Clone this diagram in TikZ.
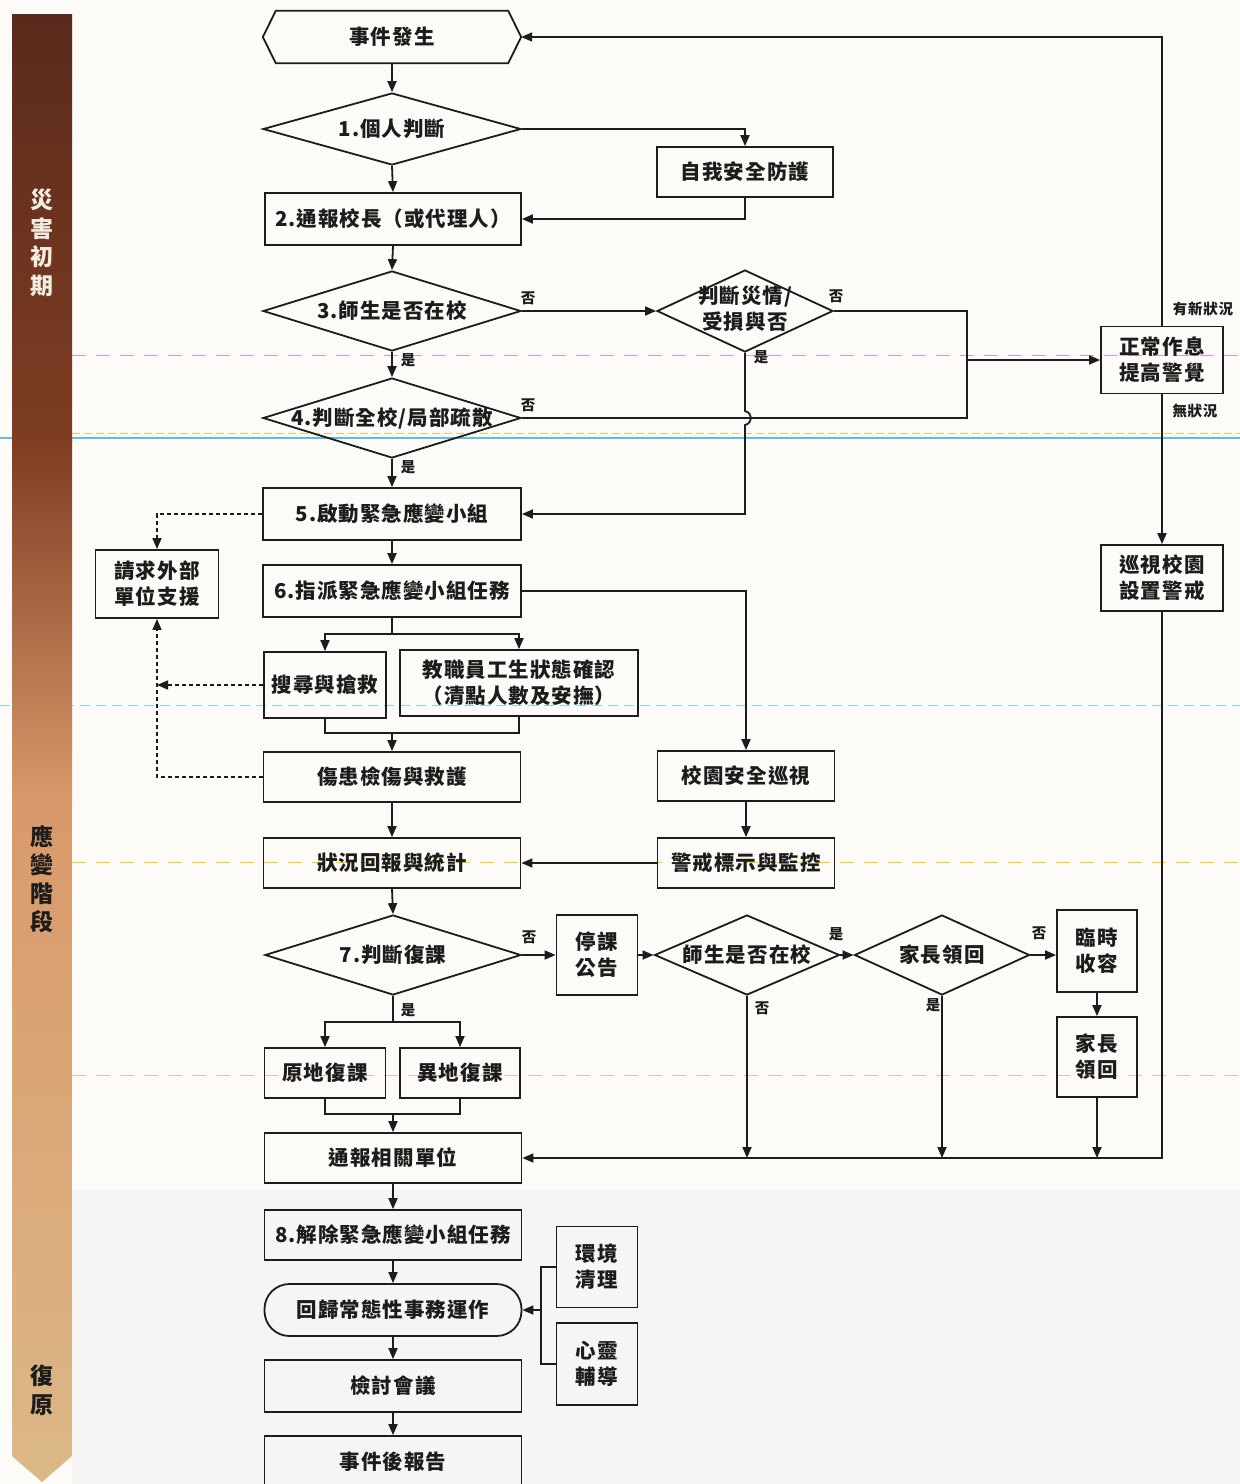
\documentclass[tikz,border=0pt]{standalone}
\usepackage{fontspec}
\setmainfont{Noto Sans CJK TC}[LetterSpace=5]
\usetikzlibrary{shapes.geometric,arrows.meta,calc}
\definecolor{bgc}{HTML}{FCFBF7}
\definecolor{sA}{HTML}{5A2A1C}
\definecolor{sB}{HTML}{7E3D22}
\definecolor{sC}{HTML}{D9996A}
\definecolor{sD}{HTML}{DCB888}
\definecolor{ink}{HTML}{1C1C1C}
\definecolor{sidewhite}{HTML}{F3ECE0}
\tikzset{
  base/.style={inner sep=0pt, align=center, text=ink, font=\bfseries\fontsize{20.5}{26}\selectfont},
  bx/.style={base, draw=ink, line width=1.8pt},
  dia/.style={diamond, draw=ink, line width=1.8pt, inner sep=0pt},
  ln/.style={draw=ink, line width=1.8pt},
  arr/.style={draw=ink, line width=1.8pt, -{Triangle[length=11pt,width=9pt]}},
  dsh/.style={draw=ink, line width=1.5pt, dash pattern=on 4pt off 3pt},
  dsharr/.style={dsh, -{Triangle[length=11pt,width=9pt]}},
  lab/.style={inner sep=1pt, text=ink, font=\bfseries\fontsize{14.5}{17}\selectfont},
  side/.style={inner sep=0pt, align=center, font=\bfseries\fontsize{23}{28.5}\selectfont},
}
\begin{document}
\begin{tikzpicture}[x=1pt,y=-1pt]
\useasboundingbox (0,0) rectangle (1240,1484);
\clip (0,0) rectangle (1240,1484);
\fill[bgc] (0,0) rectangle (1240,1484);
\fill[black!4] (72,1190) rectangle (1240,1484);
% scan guide lines
\draw[magenta!45, line width=.8pt, dash pattern=on 14pt off 10pt] (72,355) -- (1240,355);
\draw[orange!55, line width=.6pt, dash pattern=on 8pt off 4pt] (72,433) -- (1240,433);
\draw[cyan!80!teal, line width=1.8pt, opacity=.7] (0,438) -- (1240,438);
\draw[cyan!50, line width=.8pt, dash pattern=on 10pt off 6pt] (0,705) -- (1240,705);
\draw[yellow!70!orange, line width=.8pt, dash pattern=on 14pt off 10pt] (72,862) -- (1240,862);
\draw[red!30, line width=.6pt, dash pattern=on 14pt off 10pt] (72,1075) -- (1240,1075);
% side bar
\shade[top color=sA, bottom color=sB] (12,14) rectangle (72,441);
\shade[top color=sB, bottom color=sC] (12,440) rectangle (72,801);
\shade[top color=sC, bottom color=sD] (12,800) -- (72,800) -- (72,1456) -- (42,1482) -- (12,1456) -- cycle;
\node[side, text=sidewhite] (ph1) at (42,243) {災\\害\\初\\期};
\node[side, text=ink] (ph2) at (42,879) {應\\變\\階\\段};
\node[side, text=ink] (ph3) at (42,1390) {復\\原};

% nodes
\node[base, minimum width=258pt, minimum height=52pt] (ev) at (392,37) {事件發生};
\draw[ln] (ev.west) -- ([xshift=13pt]ev.north west) -- ([xshift=-13pt]ev.north east) -- (ev.east) -- ([xshift=-13pt]ev.south east) -- ([xshift=13pt]ev.south west) -- cycle;

\node[dia, minimum width=258pt, minimum height=72pt] (d1) at (392,129) {};
\node[base] (d1t) at (d1) {1.個人判斷};
\node[bx, minimum width=176pt, minimum height=50pt] (safe) at (745,172) {自我安全防護};
\node[bx, minimum width=256pt, minimum height=52pt] (n2) at (393,219) {2.通報校長（或代理人）};
\node[dia, minimum width=258pt, minimum height=80pt] (d3) at (392,311) {};
\node[base] (d3t) at (d3) {3.師生是否在校};
\node[dia, minimum width=176pt, minimum height=82pt] (dj) at (745,311) {};
\node[base] (djt) at (745,309) {判斷災情/\\受損與否};
\node[dia, minimum width=258pt, minimum height=80pt] (d4) at (392,418) {};
\node[base] (d4t) at (d4) {4.判斷全校/局部疏散};
\node[bx, minimum width=122pt, minimum height=67pt] (norm) at (1162,360) {正常作息\\提高警覺};
\node[bx, minimum width=258pt, minimum height=52pt] (n5) at (392,514) {5.啟動緊急應變小組};
\node[bx, minimum width=123pt, minimum height=68pt] (ext) at (157,584) {請求外部\\單位支援};
\node[bx, minimum width=122pt, minimum height=66pt] (pat) at (1162,578) {巡視校園\\設置警戒};
\node[bx, minimum width=258pt, minimum height=52pt] (n6) at (392,591) {6.指派緊急應變小組任務};
\node[bx, minimum width=122pt, minimum height=66pt] (sr) at (325,685) {搜尋與搶救};
\node[bx, minimum width=238pt, minimum height=66pt] (st) at (519,683) {教職員工生狀態確認\\（清點人數及安撫）};
\node[bx, minimum width=257pt, minimum height=50pt] (inj) at (392,777) {傷患檢傷與救護};
\node[bx, minimum width=177pt, minimum height=50pt] (pat2) at (746,776) {校園安全巡視};
\node[bx, minimum width=257pt, minimum height=50pt] (rep) at (392,863) {狀況回報與統計};
\node[bx, minimum width=177pt, minimum height=50pt] (warn) at (746,863) {警戒標示與監控};
\node[dia, minimum width=256pt, minimum height=80pt] (d7) at (393,955) {};
\node[base] (d7t) at (d7) {7.判斷復課};
\node[bx, minimum width=81pt, minimum height=80pt] (stop) at (597,955) {停課\\公告};
\node[dia, minimum width=185pt, minimum height=80pt] (s2) at (747,955) {};
\node[base] (s2t) at (s2) {師生是否在校};
\node[dia, minimum width=175pt, minimum height=80pt] (dp) at (942,955) {};
\node[base] (dpt) at (dp) {家長領回};
\node[bx, minimum width=80pt, minimum height=82pt] (tmp) at (1097,951) {臨時\\收容};
\node[bx, minimum width=80pt, minimum height=80pt] (pr) at (1097,1057) {家長\\領回};
\node[bx, minimum width=121pt, minimum height=50pt] (r1) at (325,1073) {原地復課};
\node[bx, minimum width=120pt, minimum height=50pt] (r2) at (460,1073) {異地復課};
\node[bx, minimum width=257pt, minimum height=50pt] (n9) at (393,1158) {通報相關單位};
\node[bx, minimum width=257pt, minimum height=50pt] (n10) at (393,1235) {8.解除緊急應變小組任務};
\node[bx, minimum width=81pt, minimum height=81pt] (env) at (597,1267) {環境\\清理};
\node[bx, minimum width=257pt, minimum height=52pt, rounded corners=25pt] (ret) at (393,1310) {回歸常態性事務運作};
\node[bx, minimum width=81pt, minimum height=82pt] (mind) at (597,1364) {心靈\\輔導};
\node[bx, minimum width=257pt, minimum height=52pt] (rev) at (393,1386) {檢討會議};
\node[bx, minimum width=257pt, minimum height=52pt] (rpt) at (393,1462) {事件後報告};

% labels
\node[lab] (l1) at (528,298) {否};
\node[lab] (l2) at (836,296) {否};
\node[lab] (l3) at (761,357) {是};
\node[lab] (l4) at (408,360) {是};
\node[lab] (l5) at (528,405) {否};
\node[lab] (l6) at (408,467) {是};
\node[lab] (l7) at (1203,309) {有新狀況};
\node[lab] (l8) at (1195,411) {無狀況};
\node[lab] (l9) at (529,937) {否};
\node[lab] (l10) at (836,934) {是};
\node[lab] (l11) at (1039,933) {否};
\node[lab] (l12) at (762,1008) {否};
\node[lab] (l13) at (933,1005) {是};
\node[lab] (l14) at (408,1010) {是};

% coordinates
\coordinate (mg) at (967,360);
\coordinate (br1) at (392,634);
\coordinate (br2) at (392,733);
\coordinate (br3) at (393,1022);
\coordinate (br4) at (393,1114);
\coordinate (br5) at (541,1310);

% connectors
\draw[arr] (ev.south) -- (d1.north);
\draw[arr] (d1.east) -| (safe.north);
\draw[arr] (d1.south) -- (n2.north);
\draw[arr] (safe.south) |- (n2.east);
\draw[arr] (n2.south) -- (d3.north);
\draw[arr] (d3.east) -- (dj.west);
\draw[ln] (dj.east) -| (mg) |- (d4.east);
\draw[arr] (mg) -- (norm.west);
\draw[arr] (dj.south) -- ($(dj.south |- d4.east)+(0,-7)$) .. controls +(8,2) and +(8,-2) .. ($(dj.south |- d4.east)+(0,7)$) |- (n5.east);
\draw[arr] (d3.south) -- (d4.north);
\draw[arr] (d4.south) -- (n5.north);
\draw[arr] (norm.north) |- (ev.east);
\draw[arr] (norm.south) -- (pat.north);
\draw[arr] (pat.south) |- (n9.east);
\draw[dsharr] (n5.west) -| (ext.north);
\draw[arr] (n5.south) -- (n6.north);
\draw[arr] (n6.east) -| (pat2.north);
\draw[ln] (n6.south) -- (br1);
\draw[arr] (br1) -| (sr.north);
\draw[arr] (br1) -| (st.north);
\draw[dsharr] (sr.west) -- (sr.west -| ext.south);
\draw[dsharr] (inj.west) -| (ext.south);
\draw[ln] (sr.south) |- (br2) -| (st.south);
\draw[arr] (br2) -- (inj.north);
\draw[arr] (inj.south) -- (rep.north);
\draw[arr] (pat2.south) -- (warn.north);
\draw[arr] (warn.west) -- (rep.east);
\draw[arr] (rep.south) -- (d7.north);
\draw[arr] (d7.east) -- (stop.west);
\draw[arr] (stop.east) -- (s2.west);
\draw[arr] (s2.east) -- (dp.west);
\draw[arr] (dp.east) -- (dp.east -| tmp.west);
\draw[arr] (tmp.south) -- (pr.north);
\draw[arr] (s2.south) -- (s2.south |- n9.east);
\draw[arr] (dp.south) -- (dp.south |- n9.east);
\draw[arr] (pr.south) -- (pr.south |- n9.east);
\draw[ln] (d7.south) -- (br3);
\draw[arr] (br3) -| (r1.north);
\draw[arr] (br3) -| (r2.north);
\draw[ln] (r1.south) |- (br4) -| (r2.south);
\draw[arr] (br4) -- (n9.north);
\draw[arr] (n9.south) -- (n10.north);
\draw[arr] (n10.south) -- (ret.north);
\draw[arr] (ret.south) -- (rev.north);
\draw[arr] (rev.south) -- (rpt.north);
\draw[ln] (env.west) -| (br5) |- (mind.west);
\draw[arr] (br5) -- (ret.east);
\end{tikzpicture}
\end{document}
